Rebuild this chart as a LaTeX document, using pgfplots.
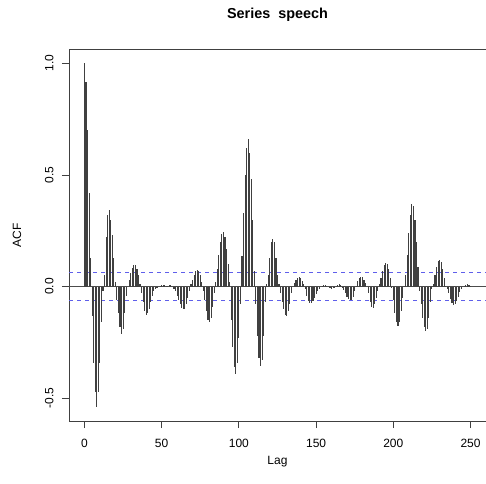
\documentclass[border=0pt]{standalone}
\usepackage{fontspec}
\setmainfont{Liberation Sans}
\usepackage{pgfplots}
\pgfplotsset{compat=1.18}
\usepackage{pgfplotstable}

% sample ACF of the speech series, lags 0..250
\pgfplotstableread{
lag acf
0 1.0
1 0.917
2 0.70
3 0.42
4 0.13
5 -0.13
6 -0.34
7 -0.47
8 -0.54
9 -0.47
10 -0.34
11 -0.16
12 -0.02
13 0.05
14 0.22
15 0.32
16 0.345
17 0.30
18 0.23
19 0.13
20 0.02
21 -0.06
22 -0.12
23 -0.18
24 -0.21
25 -0.19
26 -0.12
27 -0.04
28 0.0
29 0.03
30 0.06
31 0.085
32 0.095
33 0.095
34 0.08
35 0.05
36 0.01
37 -0.03
38 -0.07
39 -0.11
40 -0.125
41 -0.12
42 -0.10
43 -0.07
44 -0.04
45 -0.02
46 -0.01
47 -0.003
48 0.0
49 0.005
50 0.008
51 0.008
52 0.006
53 0.004
54 0.005
55 0.008
56 0.006
57 0.0
58 -0.01
59 -0.02
60 -0.04
61 -0.06
62 -0.08
63 -0.095
64 -0.10
65 -0.10
66 -0.08
67 -0.05
68 -0.02
69 0.01
70 0.03
71 0.05
72 0.07
73 0.075
74 0.07
75 0.05
76 0.02
77 -0.02
78 -0.06
79 -0.11
80 -0.15
81 -0.16
82 -0.14
83 -0.09
84 -0.03
85 0.02
86 0.08
87 0.14
88 0.20
89 0.235
90 0.245
91 0.22
92 0.17
93 0.10
94 0.02
95 -0.15
96 -0.27
97 -0.36
98 -0.39
99 -0.34
100 -0.23
101 -0.08
102 0.135
103 0.33
104 0.50
105 0.62
106 0.66
107 0.60
108 0.48
109 0.30
110 0.07
111 -0.08
112 -0.22
113 -0.32
114 -0.355
115 -0.33
116 -0.22
117 -0.07
118 0.01
119 0.05
120 0.13
121 0.20
122 0.215
123 0.20
124 0.13
125 0.05
126 0.01
127 -0.03
128 -0.07
129 -0.10
130 -0.125
131 -0.13
132 -0.11
133 -0.08
134 -0.03
135 0.0
136 0.015
137 0.03
138 0.04
139 0.045
140 0.04
141 0.025
142 0.01
143 -0.01
144 -0.04
145 -0.065
146 -0.075
147 -0.075
148 -0.065
149 -0.05
150 -0.035
151 -0.02
152 -0.01
153 0.0
154 0.005
155 0.008
156 0.008
157 0.005
158 0.0
159 -0.005
160 -0.01
161 -0.008
162 -0.003
163 0.003
164 0.008
165 0.01
166 0.006
167 -0.005
168 -0.015
169 -0.03
170 -0.045
171 -0.055
172 -0.06
173 -0.06
174 -0.045
175 -0.02
176 0.005
177 0.025
178 0.038
179 0.045
180 0.042
181 0.03
182 0.015
183 0.0
184 -0.03
185 -0.07
186 -0.09
187 -0.095
188 -0.08
189 -0.05
190 -0.02
191 0.01
192 0.04
193 0.07
194 0.095
195 0.105
196 0.10
197 0.08
198 0.04
199 -0.005
200 -0.06
201 -0.12
202 -0.16
203 -0.175
204 -0.16
205 -0.11
206 -0.05
207 0.005
208 0.05
209 0.14
210 0.24
211 0.32
212 0.37
213 0.36
214 0.30
215 0.20
216 0.09
217 -0.02
218 -0.08
219 -0.14
220 -0.18
221 -0.20
222 -0.19
223 -0.14
224 -0.07
225 -0.01
226 0.01
227 0.05
228 0.09
229 0.115
230 0.12
231 0.11
232 0.08
233 0.04
234 0.005
235 -0.01
236 -0.03
237 -0.055
238 -0.075
239 -0.082
240 -0.08
241 -0.065
242 -0.045
243 -0.025
244 -0.01
245 0.0
246 0.005
247 0.008
248 0.01
249 0.008
250 0.004
}\acfdata

\definecolor{cilblue}{RGB}{95,95,235}

\begin{document}
\begin{tikzpicture}
\begin{axis}[
  at={(69bp,63bp)},anchor=south west,
  scale only axis,width=417bp,height=371.5bp,
  xmin=-10,xmax=260,ymin=-0.6016,ymax=1.0616,
  axis line style={black!75,line width=0.8bp},
  tick style={black!75,line width=0.8bp},
  tick align=outside,major tick length=7bp,
  xtick pos=lower,ytick pos=left,
  xtick={0,50,100,150,200,250},
  ytick={-0.5,0,0.5,1},
  font=\fontsize{12bp}{14bp}\selectfont,
  /pgf/number format/assume math mode=true,
  xticklabel shift=8bp,yticklabel shift=5bp,
  y tick label style={/pgf/number format/fixed,/pgf/number format/fixed zerofill,/pgf/number format/precision=1,rotate=90,anchor=south},
  xlabel={Lag},ylabel={ACF},
  xlabel style={at={(axis description cs:0.5,-0.1104)},anchor=center},
  ylabel style={at={(axis description cs:-0.1247,0.5)},anchor=center,rotate=0},
  title={\fontsize{14.4bp}{16bp}\selectfont\bfseries Series\ \ speech},
  title style={at={(axis description cs:0.5,1.0767)},anchor=center},
]
\addplot[black!70,line width=0.8bp] coordinates {(-10,0) (260,0)};
\addplot[draw=cilblue,line width=0.9bp,dash pattern=on 4bp off 4bp] coordinates {(-10,0.0614) (260,0.0614)};
\addplot[draw=cilblue,line width=0.9bp,dash pattern=on 4bp off 4bp] coordinates {(-10,-0.0614) (260,-0.0614)};
\addplot[ycomb,black!75,line width=1.1bp,no marks] table[x=lag,y=acf] {\acfdata};
\end{axis}
\pgfresetboundingbox
\path[use as bounding box] (0,0) rectangle (486bp,484bp);
\end{tikzpicture}
\end{document}
